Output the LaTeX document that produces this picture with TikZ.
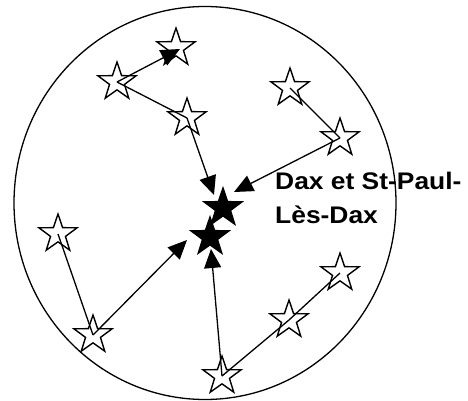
\documentclass[tikz,border=0pt]{standalone}
\usepackage{fontspec}
\setmainfont{Liberation Sans}
\newfontfamily\labfont[FakeStretch=1.1]{Liberation Sans}
\usetikzlibrary{shapes.geometric,arrows.meta}
\begin{document}
\begin{tikzpicture}[x=1pt,y=-1pt,
  st/.style={star,star points=5,star point ratio=2.55,minimum size=40pt,inner sep=0pt,draw=black,line width=1.4pt},
  fst/.style={st,fill=black},
  ln/.style={line width=1.3pt},
  ar/.style={line width=1.3pt,-{Triangle[length=19pt,width=17pt]}}]
\useasboundingbox (0,0) rectangle (468,401);
\node[draw=black,line width=1.3pt,ellipse,minimum width=382pt,minimum height=393pt,inner sep=0pt] (circ) at (205,203) {};
% stars
\node[st] (s1) at (176,48) {};
\node[st] (s2) at (117,82) {};
\node[st] (s3) at (187,118) {};
\node[st] (s4) at (290,88) {};
\node[st] (s5) at (340,138) {};
\node[st] (s6) at (58,234) {};
\node[st] (s7) at (93,335) {};
\node[st] (s8) at (222,376) {};
\node[st] (s9) at (289,320) {};
\node[st] (s10) at (340,273) {};
\node[fst] (f1) at (223,208) {};
\node[fst] (f2) at (210,237) {};
% arrow end coordinates
\coordinate (t1) at (180,49);
\coordinate (t2) at (214,195);
\coordinate (t3) at (234,192);
\coordinate (t4) at (187,240);
\coordinate (t5) at (211,249);
% connectors
\draw[ar] (s2.center) -- (t1);
\draw[ln] (s2.center) -- (s3.center);
\draw[ar] (s3.center) -- (t2);
\draw[ln] (s4.center) -- (s5.center);
\draw[ar] (s5.center) -- (t3);
\draw[ln] (s6.center) -- (s7.center);
\draw[ar] (s7.center) -- (t4);
\draw[ar] (s8.center) -- (t5);
\draw[ln] (s8.center) -- (s9.center) -- (s10.center);
% label
\node[anchor=base west,align=left,inner sep=0pt,font={\labfont\bfseries\fontsize{24}{34}\selectfont}] (lab) at (275,223) {Dax et St-Paul-\\Lès-Dax};
\end{tikzpicture}
\end{document}
